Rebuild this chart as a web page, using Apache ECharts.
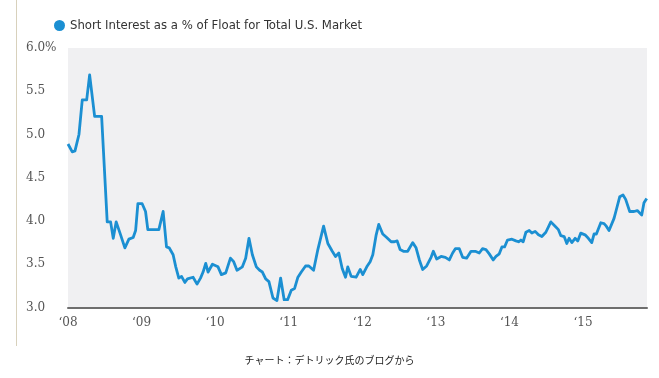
<!DOCTYPE html>
<html>
<head>
<meta charset="utf-8">
<script src="https://cdn.jsdelivr.net/npm/echarts@6/dist/echarts.min.js"></script>
<style>
html,body{margin:0;padding:0;background:#fff;}
#chart{width:659px;height:378px;}
</style>
</head>
<body>
<div id="chart"></div>
<script>
// Decimal years and short interest (% of float)
var dates = [
2008.000,2008.058,2008.095,2008.149,2008.194,2008.254,2008.294,2008.362,2008.457,2008.533,
2008.579,2008.615,2008.655,2008.715,2008.773,2008.828,2008.886,2008.919,2008.950,2009.008,
2009.054,2009.085,2009.235,2009.293,2009.339,2009.375,2009.429,2009.465,2009.506,2009.543,
2009.588,2009.624,2009.700,2009.754,2009.801,2009.836,2009.872,2009.904,2009.963,2010.039,
2010.085,2010.144,2010.208,2010.252,2010.297,2010.370,2010.415,2010.460,2010.506,2010.560,
2010.605,2010.642,2010.687,2010.731,2010.786,2010.840,2010.890,2010.938,2010.985,2011.035,
2011.080,2011.125,2011.171,2011.229,2011.274,2011.338,2011.396,2011.474,2011.532,2011.592,
2011.636,2011.681,2011.727,2011.772,2011.803,2011.849,2011.917,2011.972,2012.007,2012.061,
2012.107,2012.143,2012.189,2012.224,2012.278,2012.332,2012.392,2012.437,2012.474,2012.514,
2012.559,2012.617,2012.685,2012.731,2012.776,2012.821,2012.875,2012.935,2012.966,2013.011,
2013.071,2013.129,2013.183,2013.228,2013.265,2013.319,2013.364,2013.418,2013.478,2013.536,
2013.590,2013.635,2013.681,2013.726,2013.780,2013.817,2013.862,2013.898,2013.934,2013.974,
2014.034,2014.088,2014.124,2014.156,2014.187,2014.224,2014.269,2014.305,2014.350,2014.395,
2014.441,2014.495,2014.563,2014.621,2014.666,2014.699,2014.744,2014.780,2014.811,2014.848,
2014.893,2014.929,2014.970,2015.028,2015.073,2015.119,2015.151,2015.182,2015.242,2015.286,
2015.317,2015.354,2015.422,2015.453,2015.499,2015.544,2015.580,2015.635,2015.694,2015.738,
2015.798,2015.829,2015.866
];
var shortInterest = [
4.89,4.80,4.81,5.00,5.40,5.40,5.69,5.21,5.21,3.99,
3.99,3.80,3.99,3.84,3.69,3.79,3.81,3.89,4.20,4.20,
4.11,3.90,3.90,4.11,3.70,3.69,3.61,3.47,3.34,3.36,
3.29,3.33,3.35,3.27,3.34,3.41,3.51,3.41,3.50,3.47,
3.38,3.40,3.57,3.53,3.43,3.47,3.57,3.80,3.61,3.47,
3.43,3.41,3.33,3.30,3.11,3.08,3.34,3.09,3.09,3.20,
3.22,3.35,3.41,3.48,3.48,3.43,3.67,3.94,3.74,3.65,
3.59,3.63,3.45,3.35,3.47,3.36,3.35,3.44,3.38,3.47,
3.53,3.61,3.84,3.96,3.85,3.81,3.76,3.76,3.77,3.67,
3.65,3.65,3.75,3.69,3.55,3.44,3.48,3.58,3.65,3.56,
3.59,3.58,3.55,3.63,3.68,3.68,3.58,3.57,3.65,3.65,
3.63,3.68,3.67,3.62,3.55,3.59,3.62,3.70,3.70,3.78,
3.79,3.77,3.76,3.78,3.76,3.87,3.89,3.86,3.88,3.84,
3.82,3.87,3.99,3.94,3.90,3.83,3.82,3.74,3.80,3.75,
3.80,3.77,3.86,3.84,3.80,3.75,3.85,3.85,3.98,3.97,
3.94,3.89,4.03,4.13,4.28,4.30,4.25,4.11,4.11,4.12,
4.07,4.21,4.26
];
var yTicks = [3.0, 3.5, 4.0, 4.5, 5.0, 5.5, 6.0];
var xYears = [2008, 2009, 2010, 2011, 2012, 2013, 2014, 2015];
var seriesName = 'Short Interest as a % of Float for Total U.S. Market';
var caption = 'チャート：デトリック氏のブログから';

var blue = '#1b8fd2';
var points = dates.map(function (d, i) { return [d, shortInterest[i]]; });

var chart = echarts.init(document.getElementById('chart'), null, {renderer: 'canvas'});
chart.setOption({
  animation: false,
  backgroundColor: '#ffffff',
  grid: {
    left: 68, right: 12, top: 48, bottom: 70.5,
    show: true, backgroundColor: '#f0f0f2', borderWidth: 0
  },
  legend: {
    data: [{name: seriesName, icon: 'circle'}],
    left: 49, top: 14,
    itemWidth: 11, itemHeight: 11, itemGap: 6,
    textStyle: {
      color: '#333333', fontSize: 13,
      fontFamily: '"Liberation Sans Narrow","DejaVu Sans Condensed","Liberation Sans",sans-serif'
    }
  },
  xAxis: {
    type: 'value',
    min: xYears[0], max: 2015.87, interval: 1,
    axisLine: {show: true, lineStyle: {color: '#6e6e6e', width: 2}},
    axisTick: {show: false},
    splitLine: {show: false},
    axisLabel: {
      color: '#555555', fontSize: 12, margin: 9,
      fontFamily: '"DejaVu Serif","Liberation Serif",serif',
      showMaxLabel: false,
      formatter: function (v) {
        if (xYears.indexOf(v) < 0) return '';
        return '\u2018' + String(v).slice(2);
      }
    }
  },
  yAxis: {
    type: 'value',
    min: yTicks[0], max: yTicks[yTicks.length - 1], interval: 0.5,
    axisLine: {show: false},
    axisTick: {show: false},
    splitLine: {show: false},
    axisLabel: {
      color: '#555555', fontSize: 12, margin: 42, align: 'left',
      fontFamily: '"DejaVu Serif","Liberation Serif",serif',
      formatter: function (v) {
        return v === 6 ? '6.0%' : v.toFixed(1);
      }
    }
  },
  series: [{
    name: seriesName,
    type: 'line',
    data: points,
    showSymbol: false,
    symbol: 'circle',
    itemStyle: {color: blue},
    lineStyle: {color: blue, width: 2.8, join: 'round'},
    smooth: false
  }],
  graphic: [
    {
      type: 'line', silent: true,
      shape: {x1: 16.5, y1: 0, x2: 16.5, y2: 346},
      style: {stroke: '#d8d1bc', lineWidth: 1}
    },
    {
      type: 'text', silent: true,
      left: 'center', top: 355,
      style: {
        text: caption, fill: '#222222', fontSize: 10,
        fontFamily: '"Noto Sans CJK JP",sans-serif'
      }
    }
  ]
});
</script>
</body>
</html>
